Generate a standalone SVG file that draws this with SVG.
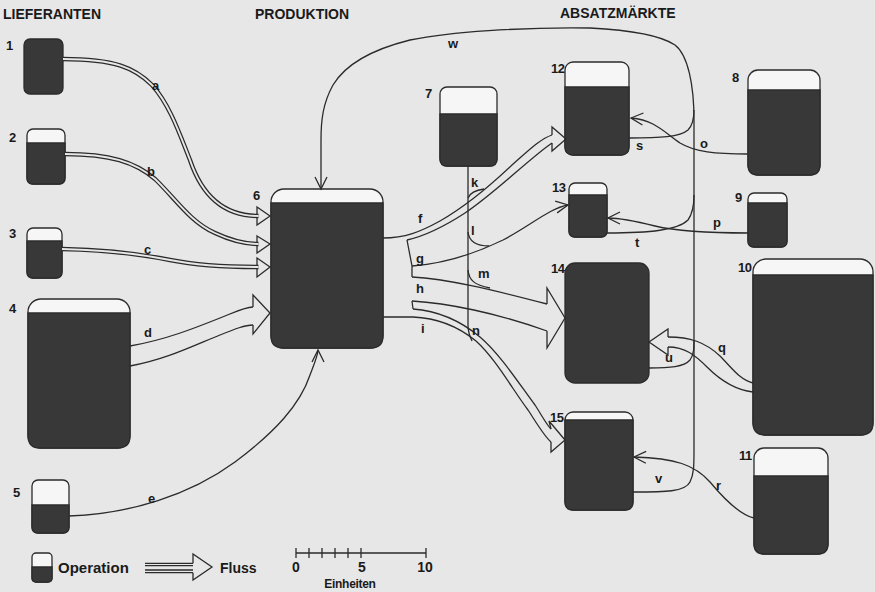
<svg xmlns="http://www.w3.org/2000/svg" width="875" height="592" viewBox="0 0 875 592">
<defs>
<style>
.bg{fill:#e7e7e7}
.top{fill:#f6f6f6;stroke:#2b2b2b;stroke-width:1.3}
.dk{fill:#383838;stroke:#2b2b2b;stroke-width:1.3}
.ln{fill:none;stroke:#2b2b2b;stroke-width:1.3}
.lnv{fill:none;stroke:#2b2b2b;stroke-width:1.3;marker-end:url(#v)}
.dbo{fill:none;stroke:#2b2b2b;stroke-width:4.4}
.dbi{fill:none;stroke:#e7e7e7;stroke-width:1.9}
.hd{fill:#e7e7e7;stroke:#2b2b2b;stroke-width:1.3}
text{font-family:"Liberation Sans",Arial,sans-serif;font-weight:bold;fill:#1a1a1a}
.hdr{font-size:14px}
.num{font-size:13px;letter-spacing:-0.6px}
.lab{font-size:13px}
</style>
<marker id="v" viewBox="0 0 14 14" refX="13" refY="7" markerWidth="14" markerHeight="14" markerUnits="userSpaceOnUse" orient="auto" style="overflow:visible"><path d="M1,1 L13,7 L1,13" fill="none" stroke="#2b2b2b" stroke-width="1.3"/></marker>
</defs>
<rect class="bg" x="0" y="0" width="875" height="592"/>

<g id="headers">
<text class="hdr" x="3" y="19">LIEFERANTEN</text>
<text class="hdr" x="255" y="19">PRODUKTION</text>
<text class="hdr" x="560" y="18">ABSATZMÄRKTE</text>
</g>

<g id="node1"><rect class="dk" x="24" y="39" width="39" height="55" rx="6"/><text class="num" x="6" y="50">1</text></g>
<g id="node2"><rect class="top" x="27" y="129" width="38" height="55" rx="6"/><path class="dk" d="M27,143 H65 V178 Q65,184 59,184 H33 Q27,184 27,178 Z"/><text class="num" x="9" y="142">2</text></g>
<g id="node3"><rect class="top" x="27" y="228" width="35" height="50" rx="6"/><path class="dk" d="M27,241 H62 V272 Q62,278 56,278 H33 Q27,278 27,272 Z"/><text class="num" x="9" y="238">3</text></g>
<g id="node4"><rect class="top" x="28" y="299" width="102" height="149" rx="13"/><path class="dk" d="M28,313 H130 V436 Q130,448 118,448 H40 Q28,448 28,436 Z"/><text class="num" x="9" y="313">4</text></g>
<g id="node5"><rect class="top" x="32" y="480" width="37" height="53" rx="6"/><path class="dk" d="M32,505 H69 V527 Q69,533 63,533 H38 Q32,533 32,527 Z"/><text class="num" x="13" y="497">5</text></g>
<g id="node6"><rect class="top" x="271" y="189" width="112" height="159" rx="13"/><path class="dk" d="M271,203 H383 V336 Q383,348 371,348 H283 Q271,348 271,336 Z"/><text class="num" x="253" y="200">6</text></g>
<g id="node7"><rect class="top" x="440" y="87" width="57" height="79" rx="7"/><path class="dk" d="M440,114 H497 V159 Q497,166 490,166 H447 Q440,166 440,159 Z"/><text class="num" x="425" y="98">7</text></g>
<g id="node8"><rect class="top" x="748" y="70" width="72" height="105" rx="10"/><path class="dk" d="M748,90 H820 V165 Q820,175 810,175 H758 Q748,175 748,165 Z"/><text class="num" x="732" y="82">8</text></g>
<g id="node9"><rect class="top" x="748" y="193" width="39" height="54" rx="6"/><path class="dk" d="M748,203 H787 V241 Q787,247 781,247 H754 Q748,247 748,241 Z"/><text class="num" x="735" y="202">9</text></g>
<g id="node10"><rect class="top" x="753" y="259" width="120" height="176" rx="13"/><path class="dk" d="M753,275 H873 V423 Q873,435 861,435 H765 Q753,435 753,423 Z"/><text class="num" x="738" y="272">10</text></g>
<g id="node11"><rect class="top" x="754" y="448" width="74" height="106" rx="10"/><path class="dk" d="M754,476 H828 V544 Q828,554 818,554 H764 Q754,554 754,544 Z"/><text class="num" x="739" y="460">11</text></g>
<g id="node12"><rect class="top" x="565" y="62" width="64" height="93" rx="8"/><path class="dk" d="M565,87 H629 V147 Q629,155 621,155 H573 Q565,155 565,147 Z"/><text class="num" x="551" y="73">12</text></g>
<g id="node13"><rect class="top" x="569" y="183" width="38" height="54" rx="6"/><path class="dk" d="M569,195 H607 V231 Q607,237 601,237 H575 Q569,237 569,231 Z"/><text class="num" x="552" y="192">13</text></g>
<g id="node14"><rect class="dk" x="565" y="263" width="84" height="120" rx="10"/><text class="num" x="551" y="273">14</text></g>
<g id="node15"><rect class="top" x="565" y="412" width="68" height="98" rx="8"/><path class="dk" d="M565,420 H633 V502 Q633,510 625,510 H573 Q565,510 565,502 Z"/></g>

<g id="connectors">
<polygon class="hd" points="257,207 270,216 257,225"/>
<path class="dbo" d="M63,59 C115,59 135,68 152,85 C170,105 180,135 190,160 C200,190 220,216 258.5,216"/>
<path class="dbi" d="M63,59 C115,59 135,68 152,85 C170,105 180,135 190,160 C200,190 220,216 258.5,216"/>
<polygon class="hd" points="257,236 270,244 257,253"/>
<path class="dbo" d="M65,154 C110,154 135,162 155,179 C175,198 190,222 215,233 C232,241 245,244 258.5,244"/>
<path class="dbi" d="M65,154 C110,154 135,162 155,179 C175,198 190,222 215,233 C232,241 245,244 258.5,244"/>
<polygon class="hd" points="257,258 270,267 257,277"/>
<path class="dbo" d="M62,249 C110,250 140,254 170,260 C200,266 230,267 258.5,267"/>
<path class="dbi" d="M62,249 C110,250 140,254 170,260 C200,266 230,267 258.5,267"/>
<path class="ln" d="M130,346 C165,340 195,328 220,318 C235,312 245,307 253,307"/>
<path class="ln" d="M130,366 C165,360 195,345 220,335 C235,329 245,325 253,325"/>
<path class="ln" d="M253,307 L253,295 L270,313 L253,334 L253,325"/>
<path class="lnv" d="M69,516 C130,514 190,495 235,462 C275,432 300,405 310,375 C315,362 318,355 318,350"/>
<path class="ln" d="M383,238 C405,238 420,232 440,221 C468,205 492,184 512,165 C528,151 540,139 552,135"/>
<path class="ln" d="M407,240 C425,236 445,226 465,213 C495,193 530,158 552,143"/>
<path class="ln" d="M552,135 L552,127 L566,139 L552,151 L552,143"/>
<path class="ln" d="M407,240 L412,266 L412,277"/>
<path class="lnv" d="M412,266 C440,264 470,256 503,240 C530,226 550,208 568,205"/>
<path class="ln" d="M412,277 C447,279 490,289 547,304"/>
<path class="ln" d="M412,301 C447,303 497,313 547,331"/>
<path class="ln" d="M547,304 L547,288 L565,318 L547,348 L547,331"/>
<path class="ln" d="M412,301 L413,309"/>
<path class="ln" d="M413,309 C440,311 462,322 480,337 C500,354 520,385 535,405 C541,414 546,424 551,429"/>
<path class="ln" d="M383,317 L413,317 C440,318 460,328 476,341 C495,358 513,390 528,410 C536,422 544,436 551,442"/>
<path class="ln" d="M551,429 L549,421 L565,440 L551,452 L551,442"/>
<path class="ln" d="M468,166 L468,325 C468,332 470,337 472,341"/>
<path class="ln" d="M468,198 C470,193 476,190 484,189"/>
<path class="ln" d="M468,232 C469,241 475,246 489,246"/>
<path class="ln" d="M468,270 C469,280 474,285 490,288"/>
<path class="lnv" d="M748,154 C715,154 695,152 680,143 C665,133 655,120 631,118"/>
<path class="lnv" d="M748,233 C715,233 680,232 655,226 C635,221 620,218 608,218"/>
<path class="ln" d="M668,337 C690,337 705,342 720,356 C732,368 740,380 753,383"/>
<path class="ln" d="M668,347 C685,347 695,355 707,367 C720,380 735,390 753,392"/>
<path class="ln" d="M668,337 L668,329 L649,342 L668,355 L668,347"/>
<path class="lnv" d="M754,518 C740,515 725,500 710,482 C695,465 675,458 634,457"/>
<path class="lnv" d="M633,492 C665,492 685,492 690,482 C694,474 694,465 694,450 L694,120 C694,85 688,55 675,45 C660,35 630,30 590,28 C520,27 450,32 410,40 C370,50 345,65 333,85 C323,103 321,120 321,140 L321,189"/>
<path class="ln" d="M629,138 C660,138 680,137 688,130 C693,125 694,118 694,110"/>
<path class="ln" d="M607,233 C650,233 678,230 688,220 C693,213 694,205 694,195"/>
<path class="ln" d="M649,368 C670,368 684,367 690,360 C694,354 694,348 694,340"/>
</g>

<g id="labels">
<text class="lab" x="152" y="90">a</text>
<text class="lab" x="147" y="176">b</text>
<text class="lab" x="144" y="254">c</text>
<text class="lab" x="144" y="337">d</text>
<text class="lab" x="148" y="503">e</text>
<text class="lab" x="418" y="223">f</text>
<text class="lab" x="416" y="263">g</text>
<text class="lab" x="416" y="293">h</text>
<text class="lab" x="421" y="333">i</text>
<text class="lab" x="471" y="187">k</text>
<text class="lab" x="471" y="235">l</text>
<text class="lab" x="478" y="278">m</text>
<text class="lab" x="472" y="335">n</text>
<text class="lab" x="700" y="148">o</text>
<text class="lab" x="713" y="227">p</text>
<text class="lab" x="718" y="352">q</text>
<text class="lab" x="716" y="490">r</text>
<text class="lab" x="636" y="150">s</text>
<text class="lab" x="635" y="247">t</text>
<text class="lab" x="665" y="362">u</text>
<text class="lab" x="655" y="483">v</text>
<text class="lab" x="448" y="48">w</text>
<text class="num" x="550" y="422">15</text>
</g>

<g id="legend">
<rect class="top" x="32" y="553" width="20" height="29" rx="4"/>
<path class="dk" d="M32,567 H52 V578 Q52,582 48,582 H36 Q32,582 32,578 Z"/>
<text style="font-size:15px" x="58" y="573">Operation</text>
<path class="ln" d="M145,563.3 H193 M145,565.7 H193 M145,570 H193 M145,572.7 H193"/>
<path class="ln" d="M193,563.3 L193,554 L212,567 L193,580 L193,572.7"/>
<text style="font-size:14px" x="220" y="573">Fluss</text>
<path class="ln" d="M296,553 H426 M296,548 V558 M309,548 V558 M322,548 V558 M335,548 V558 M348,548 V558 M361,548 V558 M426,548 V558"/>
<text style="font-size:14px" x="296" y="572" text-anchor="middle">0</text>
<text style="font-size:14px" x="362" y="572" text-anchor="middle">5</text>
<text style="font-size:14px" x="425" y="572" text-anchor="middle">10</text>
<text style="font-size:12px;letter-spacing:-0.3px" x="350" y="588" text-anchor="middle">Einheiten</text>
</g>
</svg>
